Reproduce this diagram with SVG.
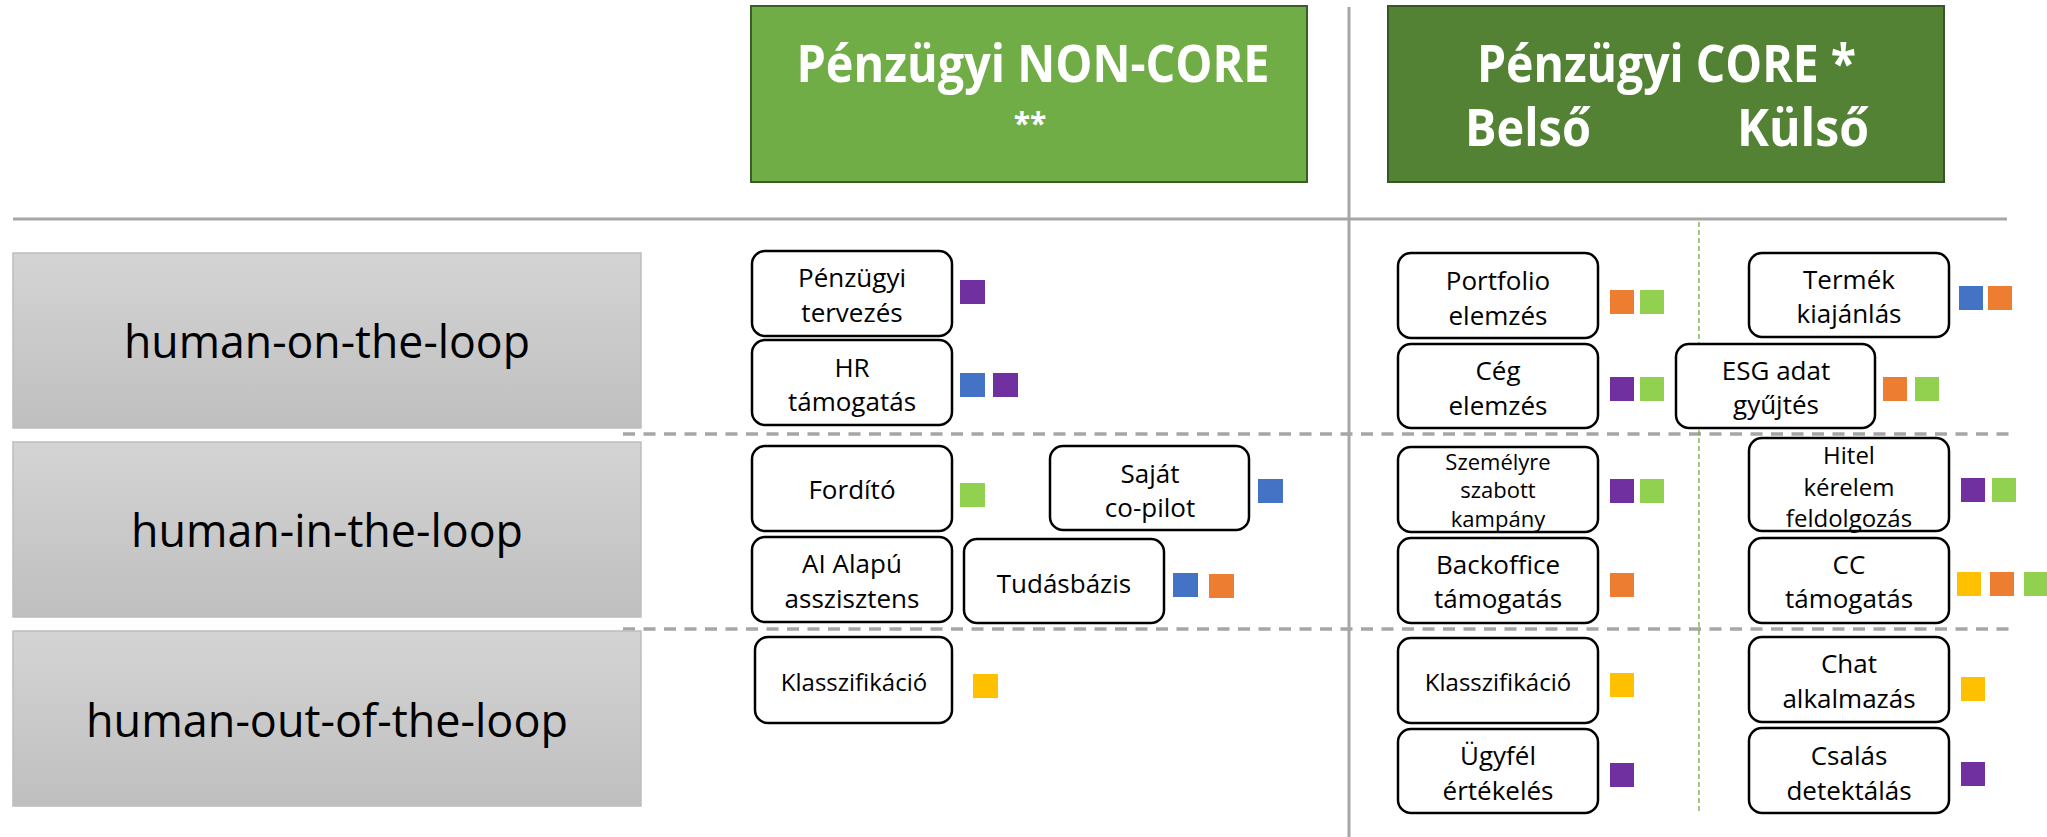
<svg xmlns="http://www.w3.org/2000/svg" width="2047" height="837" viewBox="0 0 2047 837">
  <defs>
    <linearGradient id="rowFill" x1="0" y1="0" x2="0" y2="1">
      <stop offset="0" stop-color="#D4D4D4"/>
      <stop offset="1" stop-color="#BFBFBF"/>
    </linearGradient>
  </defs>
  <style>
    .head { font-family: "Open Sans", "Liberation Sans", sans-serif; font-weight: 700; fill: #FFFFFF; }
    .row rect { fill: url(#rowFill); stroke: #BDBDBD; stroke-width: 1.5; }
    .row text { font-family: "Open Sans", "Liberation Sans", sans-serif; font-size: 46px; fill: #000000; text-anchor: middle; }
    .node rect.box { fill: #FFFFFF; stroke: #000000; stroke-width: 2.5; }
    .node text { font-family: "Open Sans", "Liberation Sans", sans-serif; font-size: 26px; fill: #000000; text-anchor: middle; }
    .node text.s24 { font-size: 24px; }
    .node text.s22 { font-size: 22px; }
    .grid { stroke: #A6A6A6; stroke-width: 3; fill: none; }
    .dash { stroke: #A6A6A6; stroke-width: 3.5; stroke-dasharray: 12 8.5; fill: none; }
    .gdash { stroke: #70AD47; stroke-width: 1.3; stroke-dasharray: 5 3; fill: none; }
    .pu { fill: #7030A0; } .bl { fill: #4472C4; } .or { fill: #ED7D31; } .gr { fill: #92D050; } .ye { fill: #FFC000; }
  </style>

  <!-- grid lines -->
  <g id="connectors">
    <line class="grid" x1="13" y1="219" x2="2007" y2="219"/>
    <line class="grid" x1="1349" y1="7" x2="1349" y2="837"/>
    <line class="dash" x1="623" y1="434" x2="2010" y2="434"/>
    <line class="dash" x1="623" y1="629" x2="2010" y2="629"/>
    <line class="gdash" x1="1699" y1="222" x2="1699" y2="812"/>
  </g>

  <!-- column headers -->
  <g id="head-noncore">
    <rect x="751" y="6" width="556" height="176" fill="#70AD47" stroke="#3A5F25" stroke-width="2"/>
    <text class="head" x="1033" y="82" font-size="52" text-anchor="middle" textLength="473" lengthAdjust="spacingAndGlyphs">Pénzügyi NON-CORE</text>
    <text class="head" x="1030" y="134" font-size="30" text-anchor="middle">**</text>
  </g>
  <g id="head-core">
    <rect x="1388" y="6" width="556" height="176" fill="#548235" stroke="#375623" stroke-width="2"/>
    <text class="head" x="1477" y="82" font-size="52" textLength="379" lengthAdjust="spacingAndGlyphs">Pénzügyi CORE *</text>
    <text class="head" x="1465" y="146" font-size="52" textLength="126" lengthAdjust="spacingAndGlyphs">Belső</text>
    <text class="head" x="1737" y="146" font-size="52" textLength="132" lengthAdjust="spacingAndGlyphs">Külső</text>
  </g>

  <!-- row labels -->
  <g id="row-on" class="row">
    <rect x="13" y="253" width="628" height="175"/>
    <text x="327" y="358" textLength="406" lengthAdjust="spacingAndGlyphs">human-on-the-loop</text>
  </g>
  <g id="row-in" class="row">
    <rect x="13" y="442" width="628" height="175"/>
    <text x="327" y="547" textLength="392" lengthAdjust="spacingAndGlyphs">human-in-the-loop</text>
  </g>
  <g id="row-out" class="row">
    <rect x="13" y="631" width="628" height="175"/>
    <text x="327" y="737" textLength="482" lengthAdjust="spacingAndGlyphs">human-out-of-the-loop</text>
  </g>

  <!-- non-core use cases -->
  <g id="n-penzugyi-tervezes" class="node">
    <rect class="box" x="752" y="251" width="200" height="85" rx="13"/>
    <text x="852" y="287">Pénzügyi</text>
    <text x="852" y="322">tervezés</text>
    <rect class="pu" x="960" y="280" width="25" height="24"/>
  </g>
  <g id="n-hr-tamogatas" class="node">
    <rect class="box" x="752" y="340" width="200" height="85" rx="13"/>
    <text x="852" y="377">HR</text>
    <text x="852" y="411">támogatás</text>
    <rect class="bl" x="960" y="373" width="25" height="24"/>
    <rect class="pu" x="993" y="373" width="25" height="24"/>
  </g>
  <g id="n-fordito" class="node">
    <rect class="box" x="752" y="446" width="200" height="85" rx="13"/>
    <text x="852" y="499">Fordító</text>
    <rect class="gr" x="960" y="483" width="25" height="24"/>
  </g>
  <g id="n-sajat-copilot" class="node">
    <rect class="box" x="1050" y="446" width="199" height="84" rx="13"/>
    <text x="1150" y="483">Saját</text>
    <text x="1150" y="517">co-pilot</text>
    <rect class="bl" x="1258" y="479" width="25" height="24"/>
  </g>
  <g id="n-ai-asszisztens" class="node">
    <rect class="box" x="752" y="537" width="200" height="85" rx="13"/>
    <text x="852" y="573">AI Alapú</text>
    <text x="852" y="608">asszisztens</text>
  </g>
  <g id="n-tudasbazis" class="node">
    <rect class="box" x="964" y="539" width="200" height="84" rx="13"/>
    <text x="1064" y="593">Tudásbázis</text>
    <rect class="bl" x="1173" y="573" width="25" height="24"/>
    <rect class="or" x="1209" y="574" width="25" height="24"/>
  </g>
  <g id="n-klasszifikacio-1" class="node">
    <rect class="box" x="755" y="637" width="197" height="86" rx="13"/>
    <text class="s24" x="854" y="691">Klasszifikáció</text>
    <rect class="ye" x="973" y="674" width="25" height="24"/>
  </g>

  <!-- core internal use cases -->
  <g id="n-portfolio" class="node">
    <rect class="box" x="1398" y="253" width="200" height="85" rx="13"/>
    <text x="1498" y="290">Portfolio</text>
    <text x="1498" y="325">elemzés</text>
    <rect class="or" x="1610" y="290" width="24" height="24"/>
    <rect class="gr" x="1640" y="290" width="24" height="24"/>
  </g>
  <g id="n-ceg" class="node">
    <rect class="box" x="1398" y="344" width="200" height="84" rx="13"/>
    <text x="1498" y="380">Cég</text>
    <text x="1498" y="415">elemzés</text>
    <rect class="pu" x="1610" y="377" width="24" height="24"/>
    <rect class="gr" x="1640" y="377" width="24" height="24"/>
  </g>
  <g id="n-szemelyre" class="node">
    <rect class="box" x="1398" y="447" width="200" height="85" rx="13"/>
    <text class="s22" x="1498" y="470">Személyre</text>
    <text class="s22" x="1498" y="498">szabott</text>
    <text class="s22" x="1498" y="527">kampány</text>
    <rect class="pu" x="1610" y="479" width="24" height="24"/>
    <rect class="gr" x="1640" y="479" width="24" height="24"/>
  </g>
  <g id="n-backoffice" class="node">
    <rect class="box" x="1398" y="538" width="200" height="85" rx="13"/>
    <text x="1498" y="574">Backoffice</text>
    <text x="1498" y="608">támogatás</text>
    <rect class="or" x="1610" y="573" width="24" height="24"/>
  </g>
  <g id="n-klasszifikacio-2" class="node">
    <rect class="box" x="1398" y="638" width="200" height="85" rx="13"/>
    <text class="s24" x="1498" y="691">Klasszifikáció</text>
    <rect class="ye" x="1610" y="673" width="24" height="24"/>
  </g>
  <g id="n-ugyfel" class="node">
    <rect class="box" x="1398" y="729" width="200" height="84" rx="13"/>
    <text x="1498" y="765">Ügyfél</text>
    <text x="1498" y="800">értékelés</text>
    <rect class="pu" x="1610" y="763" width="24" height="24"/>
  </g>

  <!-- core external use cases -->
  <g id="n-termek" class="node">
    <rect class="box" x="1749" y="253" width="200" height="84" rx="13"/>
    <text x="1849" y="289">Termék</text>
    <text x="1849" y="323">kiajánlás</text>
    <rect class="bl" x="1959" y="286" width="24" height="24"/>
    <rect class="or" x="1988" y="286" width="24" height="24"/>
  </g>
  <g id="n-esg" class="node">
    <rect class="box" x="1676" y="344" width="199" height="84" rx="13"/>
    <text x="1776" y="380">ESG adat</text>
    <text x="1776" y="414">gyűjtés</text>
    <rect class="or" x="1883" y="377" width="24" height="24"/>
    <rect class="gr" x="1915" y="377" width="24" height="24"/>
  </g>
  <g id="n-hitel" class="node">
    <rect class="box" x="1749" y="438" width="200" height="93" rx="13"/>
    <text class="s24" x="1849" y="464">Hitel</text>
    <text class="s24" x="1849" y="496">kérelem</text>
    <text class="s24" x="1849" y="527">feldolgozás</text>
    <rect class="pu" x="1961" y="478" width="24" height="24"/>
    <rect class="gr" x="1992" y="478" width="24" height="24"/>
  </g>
  <g id="n-cc" class="node">
    <rect class="box" x="1749" y="538" width="200" height="85" rx="13"/>
    <text x="1849" y="574">CC</text>
    <text x="1849" y="608">támogatás</text>
    <rect class="ye" x="1957" y="572" width="24" height="24"/>
    <rect class="or" x="1990" y="572" width="24" height="24"/>
    <rect class="gr" x="2024" y="572" width="24" height="24"/>
  </g>
  <g id="n-chat" class="node">
    <rect class="box" x="1749" y="637" width="200" height="85" rx="13"/>
    <text x="1849" y="673">Chat</text>
    <text x="1849" y="708">alkalmazás</text>
    <rect class="ye" x="1961" y="677" width="24" height="24"/>
  </g>
  <g id="n-csalas" class="node">
    <rect class="box" x="1749" y="728" width="200" height="85" rx="13"/>
    <text x="1849" y="765">Csalás</text>
    <text x="1849" y="800">detektálás</text>
    <rect class="pu" x="1961" y="762" width="24" height="24"/>
  </g>
</svg>
